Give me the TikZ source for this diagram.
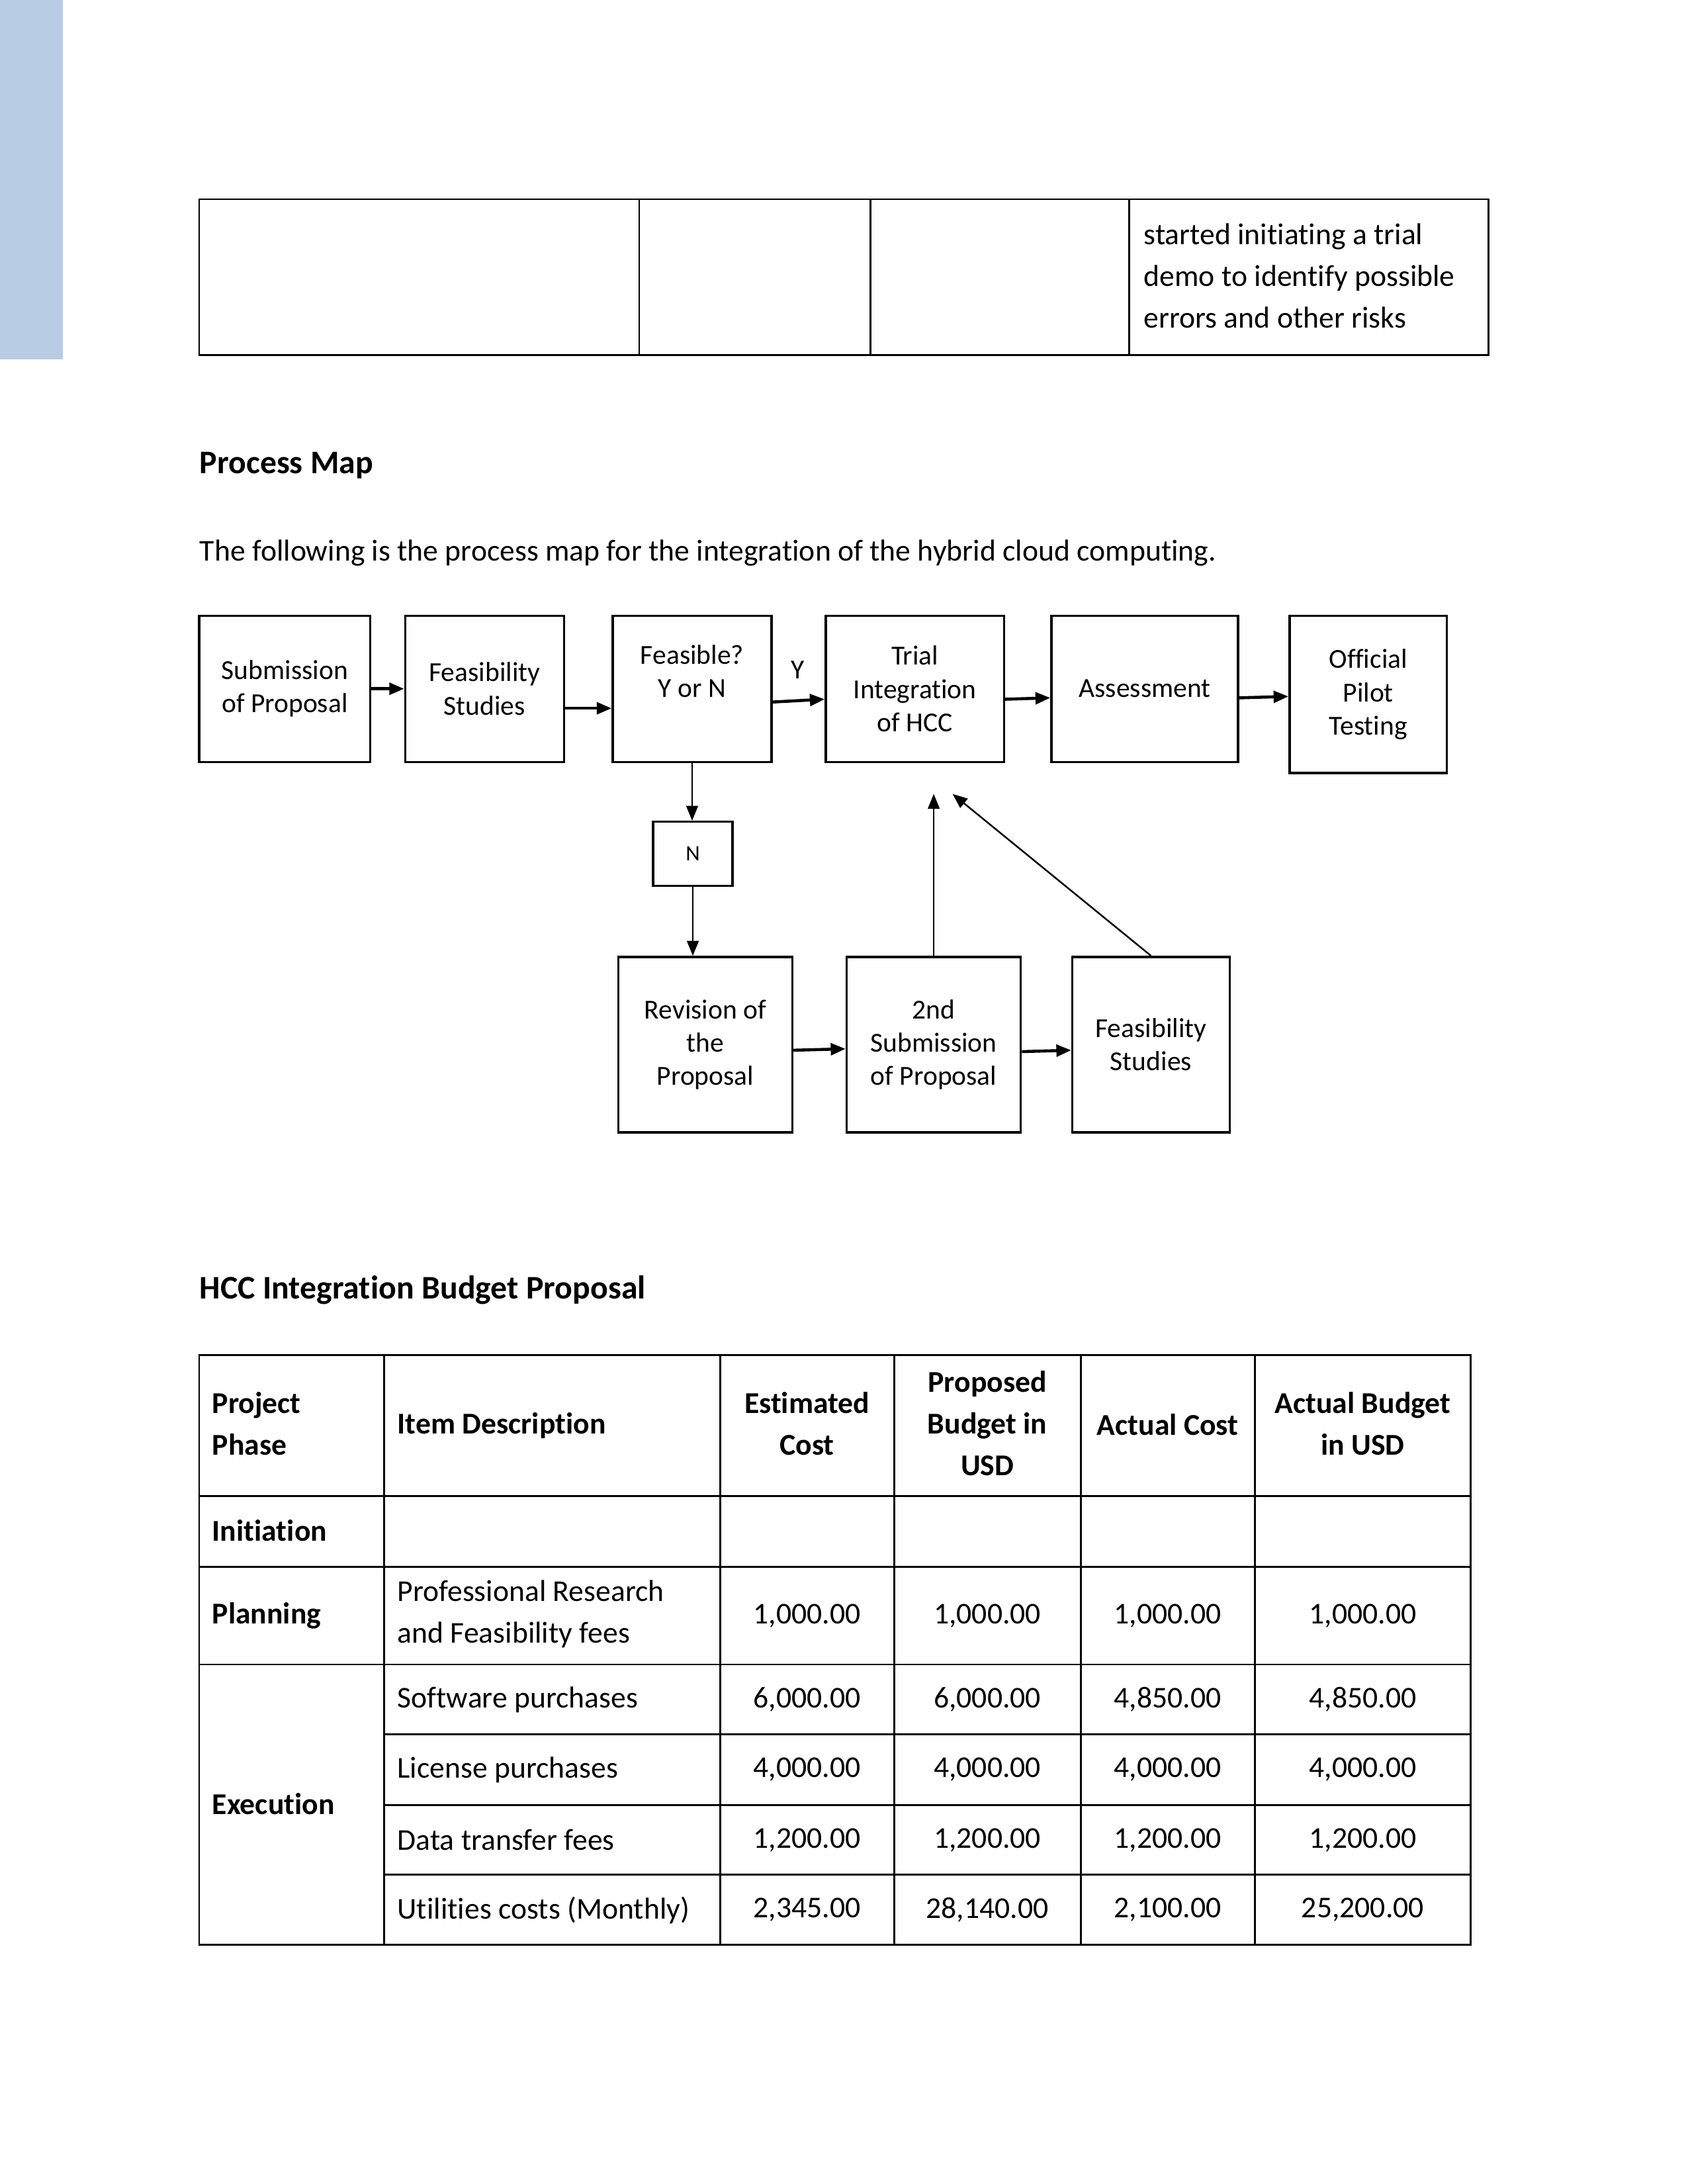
\documentclass[tikz,border=0pt]{standalone}
\usepackage{fontspec}
\setmainfont{Carlito}[Ligatures=NoCommon]
\usetikzlibrary{arrows.meta,positioning,calc}
\definecolor{pmblue}{RGB}{184,204,228}
\tikzset{
  pmbox/.style={
    draw=black, line width=0.8pt, fill=white, align=center,
    inner sep=0pt, font=\fontsize{10}{12.1}\selectfont
  },
  pmedge/.style={-{Triangle[length=1.9mm,width=1.5mm]},line width=1.1pt},
  pmedgethin/.style={-{Triangle[length=1.9mm,width=1.5mm]},line width=0.6pt},
  pmlabel/.style={font=\fontsize{10}{12.1}\selectfont,inner sep=0pt},
  pmhead/.style={font=\fontsize{12}{14}\selectfont\bfseries,anchor=west,inner sep=0pt},
  pmbody/.style={font=\fontsize{11}{15.1}\selectfont,anchor=west,inner sep=0pt},
  pmrule/.style={line width=0.7pt},
  pmcell/.style={font=\fontsize{11}{15.2}\selectfont,inner sep=0pt,align=center},
  pmcellleft/.style={pmcell,anchor=west,align=left},
  pmcellbold/.style={pmcell,font=\fontsize{11}{15.2}\selectfont\bfseries}
}

\begin{document}
\begin{tikzpicture}[x=0.178135mm,y=-0.178135mm]
\useasboundingbox (0,0) rectangle (1212,1568);
\fill[pmblue] (0,0) rectangle (45,258);

% end of the previous table
\draw[pmrule] (143,143) rectangle (1069,255);
\foreach \x in {459,625,811}
  \draw[pmrule] (\x,143) -- (\x,255);
\node[pmcellleft] (prevtxt) at (821,198)
  {started initiating a trial\\demo to identify possible\\errors and other risks};

\node[pmhead] (maptitle) at (143,334) {Process Map};
\node[pmbody] (mapintro) at (143,397)
  {The following is the process map for the integration of the hybrid cloud computing.};

% process map
\node[pmbox,minimum width=21.91mm,minimum height=18.70mm] (sub) at (204.5,494.5) {Submission\\of Proposal};
\node[pmbox,minimum width=20.31mm,minimum height=18.70mm] (feas) at (348,494.5) {Feasibility\\Studies};
\node[pmbox,minimum width=20.31mm,minimum height=18.70mm] (feasq) at (497,494.5) {};
\node[pmlabel,align=center] (feasqtxt) at (497,482) {Feasible?\\Y or N};
\node[pmbox,minimum width=22.80mm,minimum height=18.70mm] (trial) at (657,494.5) {Trial\\Integration\\of HCC};
\node[pmbox,minimum width=23.87mm,minimum height=18.70mm] (assess) at (822,494.5) {Assessment};
\node[pmbox,minimum width=20.13mm,minimum height=20.13mm] (pilot) at (982.5,498.5) {Official\\Pilot\\Testing};
\node[pmbox,minimum width=10.15mm,minimum height=8.19mm,font=\fontsize{8}{9}\selectfont] (nbox) at (497.5,613) {N};
\node[pmbox,minimum width=22.27mm,minimum height=22.45mm] (rev) at (506.5,750) {Revision of\\the\\Proposal};
\node[pmbox,minimum width=22.27mm,minimum height=22.45mm] (second) at (670.5,750) {2nd\\Submission\\of Proposal};
\node[pmbox,minimum width=20.13mm,minimum height=22.45mm] (feastwo) at (826.5,750) {Feasibility\\Studies};
\node[pmlabel] (ylab) at (573,481) {Y};
\coordinate (tipa) at (670.5,570);
\coordinate (tipb) at (684,570);

\draw[pmedge] (sub.east) -- (feas.west);
\draw[pmedge] ($(feas.east)+(0,14)$) -- ($(feasq.west)+(0,14)$);
\draw[pmedge] ($(feasq.east)+(0,9.5)$) -- ($(trial.west)+(0,7.5)$);
\draw[pmedge] ($(trial.east)+(0,7.5)$) -- ($(assess.west)+(0,6.5)$);
\draw[pmedge] ($(assess.east)+(0,6.5)$) -- ($(pilot.west)+(0,1.5)$);
\draw[pmedgethin] (feasq.south) -- (feasq.south |- nbox.north);
\draw[pmedgethin] (nbox.south) -- (nbox.south |- rev.north);
\draw[pmedge] ($(rev.east)+(0,4)$) -- ($(second.west)+(0,3)$);
\draw[pmedge] ($(second.east)+(0,5)$) -- ($(feastwo.west)+(0,4)$);
\draw[pmedgethin] (second.north) -- (tipa);
\draw[pmedgethin] (feastwo.north) -- (tipb);

\node[pmhead] (budtitle) at (143,926) {HCC Integration Budget Proposal};

% budget table
\draw[pmrule] (143,973) rectangle (1056,1396);
\foreach \x in {276,517,642,776,901}
  \draw[pmrule] (\x,973) -- (\x,1396);
\foreach \y in {1074,1125,1195}
  \draw[pmrule] (143,\y) -- (1056,\y);
\foreach \y in {1245,1296,1346}
  \draw[pmrule] (276,\y) -- (1056,\y);

\node[pmcellbold,anchor=west,align=left] (hphase) at (152,1022) {Project\\Phase};
\node[pmcellbold,anchor=west] (hitem) at (285,1023.5) {Item Description};
\node[pmcellbold] (hest) at (579.5,1022) {Estimated\\Cost};
\node[pmcellbold] (hprop) at (709,1022) {Proposed\\Budget in\\USD};
\node[pmcellbold] (hact) at (838.5,1023) {Actual Cost};
\node[pmcellbold] (hbud) at (978.5,1022) {Actual Budget\\in USD};

\node[pmcellbold,anchor=west] (pinit) at (152,1099) {Initiation};
\node[pmcellbold,anchor=west] (pplan) at (152,1160) {Planning};
\node[pmcellbold,anchor=west] (pexec) at (152,1295) {Execution};

\node[pmcellleft] (dres) at (285,1159) {Professional Research\\and Feasibility fees};
\node[pmcellleft] (dsoft) at (285,1220.5) {Software purchases};
\node[pmcellleft] (dlic) at (285,1270.5) {License purchases};
\node[pmcellleft] (ddata) at (285,1321) {Data transfer fees};
\node[pmcellleft] (dutil) at (285,1371.5) {Utilities costs (Monthly)};

\foreach \y/\a/\b/\c/\d in {
  1160/{1,000.00}/{1,000.00}/{1,000.00}/{1,000.00},
  1220/{6,000.00}/{6,000.00}/{4,850.00}/{4,850.00},
  1270.5/{4,000.00}/{4,000.00}/{4,000.00}/{4,000.00},
  1321/{1,200.00}/{1,200.00}/{1,200.00}/{1,200.00},
  1371/{2,345.00}/{28,140.00}/{2,100.00}/{25,200.00}}{
  \node[pmcell] (est\y) at (579.5,\y) {\a};
  \node[pmcell] (prop\y) at (709,\y) {\b};
  \node[pmcell] (act\y) at (838.5,\y) {\c};
  \node[pmcell] (bud\y) at (978.5,\y) {\d};
}
\end{tikzpicture}
\end{document}
